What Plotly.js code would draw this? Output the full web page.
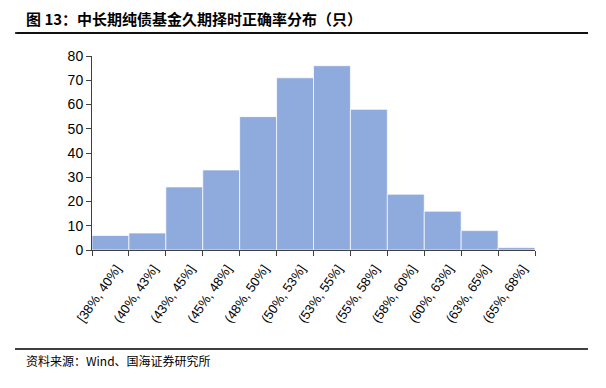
<!DOCTYPE html>
<html>
<head>
<meta charset="utf-8">
<script src="https://cdn.plot.ly/plotly-3.0.1.min.js"></script>
<style>html,body{margin:0;padding:0;background:#fff;}#chart{width:606px;height:388px;}</style>
</head>
<body>
<div id="chart"></div>
<script>
const categories = ["[38%, 40%]", "(40%, 43%]", "(43%, 45%]", "(45%, 48%]", "(48%, 50%]", "(50%, 53%]", "(53%, 55%]", "(55%, 58%]", "(58%, 60%]", "(60%, 63%]", "(63%, 65%]", "(65%, 68%]"];
const counts = [6, 7, 26, 33, 55, 71, 76, 58, 23, 16, 8, 1];
const yTicks = [0, 10, 20, 30, 40, 50, 60, 70, 80];
const titleText = "图 13：中长期纯债基金久期择时正确率分布（只）";
const sourceText = "资料来源：Wind、国海证券研究所";

const L = 92, R = 535, T = 56, B = 250;
const W = 606, H = 388;
const px = x => (x - L) / (R - L);
const py = y => (B - y) / (B - T);

const trace = {
  type: "bar",
  x: categories,
  y: counts,
  marker: {color: "#8FAADC", line: {color: "rgba(255,255,255,0.7)", width: 1}},
  hoverinfo: "none"
};

function hline(y) {
  return {text: "", xref: "paper", yref: "paper", axref: "paper", ayref: "paper",
    x: px(588), y: py(y), ax: px(15), ay: py(y),
    showarrow: true, arrowhead: 0, arrowwidth: 1.5, arrowcolor: "#000", standoff: 0, startstandoff: 0};
}

const layout = {
  width: W, height: H,
  margin: {l: L, r: W - R, t: T, b: H - B, pad: 0},
  paper_bgcolor: "#fff", plot_bgcolor: "#fff",
  bargap: 0,
  showlegend: false,
  font: {family: "Liberation Sans, Arial, sans-serif", size: 13, color: "#000"},
  xaxis: {
    type: "category",
    showgrid: false, zeroline: false,
    showline: true, linecolor: "#404040", linewidth: 1,
    ticks: "outside", tickson: "boundaries", ticklen: 5, tickcolor: "#404040",
    tickangle: -55,
    ticklabelshift: 6, ticklabelstandoff: 5,
    tickfont: {family: "Liberation Sans, Arial, sans-serif", size: 13, color: "#000"},
    range: [-0.5, 11.5], fixedrange: true
  },
  yaxis: {
    range: [0, 80], tickvals: yTicks,
    showgrid: false, zeroline: false,
    showline: true, linecolor: "#404040", linewidth: 1,
    ticks: "outside", ticklen: 5, tickcolor: "#404040",
    tickfont: {family: "Liberation Sans, Arial, sans-serif", size: 14, color: "#000"},
    fixedrange: true
  },
  shapes: [
    {type: "line", xref: "paper", yref: "paper", x0: px(15), x1: px(588), y0: py(33), y1: py(33), line: {color: "#000", width: 1.5}},
    {type: "line", xref: "paper", yref: "paper", x0: px(15), x1: px(588), y0: py(349), y1: py(349), line: {color: "#000", width: 1.5}}
  ],
  annotations: [
    hline(33),
    {text: "<b>" + titleText + "</b>", xref: "paper", yref: "paper", x: px(24), y: py(18), xanchor: "left", yanchor: "middle", showarrow: false,
     font: {family: "Noto Sans CJK SC, sans-serif", size: 15, color: "#000"}},
    {text: sourceText, xref: "paper", yref: "paper", x: px(24), y: py(360), xanchor: "left", yanchor: "middle", showarrow: false,
     font: {family: "Noto Sans CJK SC, sans-serif", size: 12, color: "#000"}}
  ]
};

Plotly.newPlot("chart", [trace], layout, {displayModeBar: false, staticPlot: true});
</script>
</body>
</html>
